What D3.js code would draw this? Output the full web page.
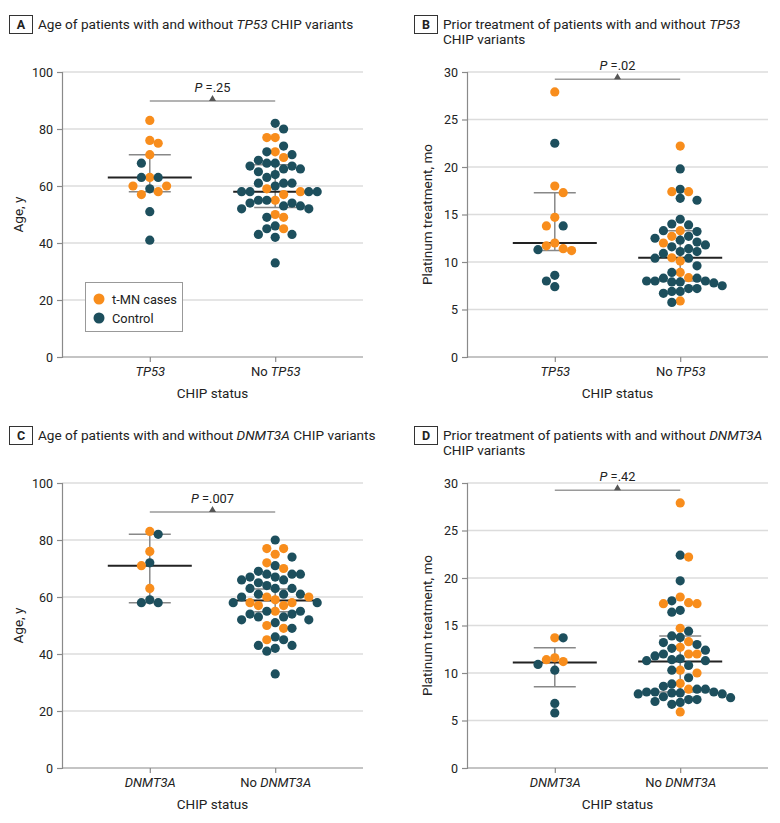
<!DOCTYPE html>
<html><head><meta charset="utf-8">
<script src="https://cdn.jsdelivr.net/npm/d3@7"></script>
<style>
body{margin:0;background:#fff}
svg{display:block}
text{font-family:Roboto,"Liberation Sans",Arial,sans-serif;fill:#222}
</style>
</head><body>
<svg id="chart" width="780" height="823"></svg>
<script>
// ---------- DATA ----------
// Panel A: age (years)
const ageTP53Cases      = [83,76,75,71,63,60,60,58,57];
const ageTP53Controls   = [68,63,63,59,51,41];
const ageNoTP53Cases    = [77,77,72,70,59,58,57,55,50,49,45];
const ageNoTP53Controls = [82,80,74,72,71,69,68,68,67,67,66,66,65,64,63,61,61,61,60,58,58,58,58,55,55,54,54,53,53,52,52,49,46,45,43,43,42,33];
// Panel B: platinum treatment (months)
const platTP53Cases      = [27.9,18.0,17.3,14.7,13.8,12.0,11.7,11.4,11.2];
const platTP53Controls   = [22.5,13.8,11.3,8.6,8.0,7.4];
const platNoTP53Cases    = [22.2,17.4,17.4,13.3,12.7,12.0,10.45,10.1,8.9,8.35,5.9];
const platNoTP53Controls = [19.8,17.65,16.7,16.5,14.5,14.0,13.9,13.3,13.2,12.7,12.5,12.3,12.1,11.8,11.6,11.4,11.1,11.1,10.9,10.4,10.4,9.6,8.9,8.3,8.3,8.0,8.0,8.0,7.9,7.9,7.8,7.5,7.2,7.2,6.9,6.9,6.7,5.75];
// Panel C: age (years)
const ageDNMT3ACases      = [83,76,71,63];
const ageDNMT3AControls   = [82,72,59,58,58];
const ageNoDNMT3ACases    = [77,77,75,72,70,60,60,59,58,58,57,57,55,50,49,45];
const ageNoDNMT3AControls = [80,74,71,69,68,68,68,67,67,66,66,65,64,63,63,63,61,61,61,60,58,58,55,55,54,54,53,53,52,52,51,49,46,45,43,43,42,41,33];
// Panel D: platinum treatment (months)
const platDNMT3ACases      = [13.7,11.6,11.4,11.2];
const platDNMT3AControls   = [13.7,10.9,10.3,6.8,5.8];
const platNoDNMT3ACases    = [27.9,22.2,18.0,17.4,17.3,17.3,14.7,13.3,12.7,12.0,12.0,10.3,10.0,8.9,8.3,5.9];
const platNoDNMT3AControls = [22.4,19.7,17.6,16.6,16.4,14.4,13.9,13.75,13.2,13.0,12.6,12.4,12.0,11.8,11.5,11.4,11.3,11.3,10.8,10.3,9.5,8.85,8.6,8.3,8.3,8.0,8.0,8.0,7.9,7.9,7.8,7.8,7.5,7.4,7.2,7.2,7.0,6.9,6.7];
// Summary lines [median, lower, upper]
const statsA = [[63,58,71],[58,52.5,67.5]];
const statsB = [[12.0,11.2,17.3],[10.45,8.0,13.3]];
const statsC = [[71,58,82],[58.8,54.8,62.8]];
const statsD = [[11.1,8.55,12.65],[11.2,8.0,13.9]];
// P values
const pValues = [".25",".02",".007",".42"];
// Ticks
const ageTicks  = [0,20,40,60,80,100];
const platTicks = [0,5,10,15,20,25,30];
const legendLabels = ["t-MN cases","Control"];

// ---------- STYLE ----------
const ORANGE = "#F88D1C", TEAL = "#1D4F5D";
const R = 4.6, STEP = 8.4;
const FONT = "Roboto,'Liberation Sans',Arial,sans-serif";

const svg = d3.select("#chart");

const panels = [
  {id:"A", ox:0,   oy:0,   gene:"TP53",   kind:"age",
   groups:[[ageTP53Cases,ageTP53Controls],[ageNoTP53Cases,ageNoTP53Controls]], stats:statsA, p:pValues[0],
   title:[[["Age of patients with and without ",false],["TP53",true],[" CHIP variants",false]]], legend:true},
  {id:"B", ox:405, oy:0,   gene:"TP53",   kind:"plat",
   groups:[[platTP53Cases,platTP53Controls],[platNoTP53Cases,platNoTP53Controls]], stats:statsB, p:pValues[1],
   title:[[["Prior treatment of patients with and without ",false],["TP53",true]],[["CHIP variants",false]]]},
  {id:"C", ox:0,   oy:411, gene:"DNMT3A", kind:"age",
   groups:[[ageDNMT3ACases,ageDNMT3AControls],[ageNoDNMT3ACases,ageNoDNMT3AControls]], stats:statsC, p:pValues[2],
   title:[[["Age of patients with and without ",false],["DNMT3A",true],[" CHIP variants",false]]]},
  {id:"D", ox:405, oy:411, gene:"DNMT3A", kind:"plat",
   groups:[[platDNMT3ACases,platDNMT3AControls],[platNoDNMT3ACases,platNoDNMT3AControls]], stats:statsD, p:pValues[3],
   title:[[["Prior treatment of patients with and without ",false],["DNMT3A",true]],[["CHIP variants",false]]]}
];

function swarm(pts, cx) {
  const placed = [];
  let flip = 1;
  const minDy = 2*R*0.98;
  pts.forEach(p => {
    for (let m=0; m<60; m++) {
      const cands = m===0 ? [0] : [flip*m, -flip*m];
      let chosen = null;
      for (const k of cands) {
        if (!placed.some(q => q.k===k && Math.abs(q.y-p.y) < minDy)) { chosen = k; break; }
      }
      if (chosen !== null) {
        if (chosen !== 0) flip = -flip;
        p.k = chosen; placed.push(p); break;
      }
    }
    p.x = cx + p.k*STEP;
  });
  return pts;
}

panels.forEach(P => {
  const g = svg.append("g").attr("transform",`translate(${P.ox},${P.oy})`);
  const left = 62, right = 363, top = 72, bottom = 357;
  const yMax = P.kind==="age" ? 100 : 30;
  const ticks = P.kind==="age" ? ageTicks : platTicks;
  const y = d3.scaleLinear().domain([0,yMax]).range([bottom,top]);
  const cats = [P.gene, "No " + P.gene];
  const x = d3.scalePoint().domain(cats).range([left,right]).padding(0.7);

  // panel label box + title
  g.append("rect").attr("x",9.5).attr("y",15.5).attr("width",23).attr("height",18)
    .attr("fill","#fff").attr("stroke","#333").attr("stroke-width",1);
  g.append("text").attr("x",21).attr("y",29).attr("text-anchor","middle")
    .style("font-size","12.5px").style("font-weight","bold").text(P.id);
  P.title.forEach((line,i) => {
    const t = g.append("text").attr("x",38).attr("y",29 + i*15).style("font-size","13.6px");
    line.forEach(([s,it]) => t.append("tspan").style("font-style",it?"italic":"normal").text(s));
  });

  // gridlines
  g.append("g").selectAll("line").data(ticks.filter(d=>d>0)).join("line")
    .attr("x1",left).attr("x2",right).attr("y1",d=>y(d)).attr("y2",d=>y(d))
    .attr("stroke","#dcdcdc").attr("stroke-width",1.5);

  // y axis
  const ya = g.append("g").attr("transform",`translate(${left},0)`)
    .call(d3.axisLeft(y).tickValues(ticks).tickSize(5).tickPadding(4));
  ya.select(".domain").attr("stroke","#8a8a8a").attr("stroke-width",1.2);
  ya.selectAll(".tick line").attr("stroke","#8a8a8a").attr("stroke-width",1.2);
  ya.selectAll(".tick text").style("font-size","12.5px").style("font-family",FONT).attr("fill","#222");

  // x axis
  const xa = g.append("g").attr("transform",`translate(0,${bottom})`)
    .call(d3.axisBottom(x).tickSize(5).tickPadding(5).tickSizeOuter(0));
  xa.select(".domain").attr("stroke","#8a8a8a").attr("stroke-width",1.2).attr("d",`M${left},0H${right}`);
  xa.selectAll(".tick line").attr("stroke","#8a8a8a").attr("stroke-width",1.2);
  xa.selectAll(".tick text").each(function(d){
    const t = d3.select(this).text(null).style("font-size","13px")
      .style("font-family",FONT).attr("fill","#222").attr("dy","0.71em");
    if (d.startsWith("No ")) { t.append("tspan").text("No "); t.append("tspan").style("font-style","italic").text(P.gene); }
    else t.append("tspan").style("font-style","italic").text(d);
  });

  // axis titles
  g.append("text").attr("x",(left+right)/2).attr("y",398).attr("text-anchor","middle")
    .style("font-size","13.5px").text("CHIP status");
  g.append("text").attr("transform",`translate(${P.kind==="age"?23:27},${(top+bottom)/2}) rotate(-90)`)
    .attr("text-anchor","middle").style("font-size","13.5px")
    .text(P.kind==="age" ? "Age, y" : "Platinum treatment, mo");

  // P bracket
  const bY = P.kind==="age" ? y(89.8) : y(29.25);
  const x1 = x(cats[0]), x2 = x(cats[1]), xm = (x1+x2)/2;
  g.append("line").attr("x1",x1).attr("x2",x2).attr("y1",bY).attr("y2",bY)
    .attr("stroke","#9a9a9a").attr("stroke-width",1.5);
  g.append("path").attr("d",`M${xm-3.5},${bY}L${xm+3.5},${bY}L${xm},${bY-6}Z`).attr("fill","#555");
  const pt = g.append("text").attr("x",xm).attr("y",bY-9).attr("text-anchor","middle").style("font-size","12.8px");
  pt.append("tspan").style("font-style","italic").text("P");
  pt.append("tspan").text(" =" + P.p);

  // summary lines (under points)
  P.stats.forEach(([med,lo,hi],i) => {
    const cx = x(cats[i]);
    g.append("line").attr("x1",cx).attr("x2",cx).attr("y1",y(lo)).attr("y2",y(hi)).attr("stroke","#888").attr("stroke-width",1.5);
    [lo,hi].forEach(v => g.append("line").attr("x1",cx-21).attr("x2",cx+21).attr("y1",y(v)).attr("y2",y(v))
      .attr("stroke","#888").attr("stroke-width",1.5));
    g.append("line").attr("x1",cx-42).attr("x2",cx+42).attr("y1",y(med)).attr("y2",y(med))
      .attr("stroke","#222").attr("stroke-width",2);
  });

  // points
  P.groups.forEach(([cases,ctrls],i) => {
    const pts = cases.map(v=>({v,c:ORANGE})).concat(ctrls.map(v=>({v,c:TEAL})));
    pts.forEach(p => p.y = y(p.v));
    pts.sort((a,b)=>b.v-a.v);
    const placed = swarm(pts, x(cats[i]));
    g.append("g").selectAll("circle").data(placed).join("circle")
      .attr("cx",d=>d.x).attr("cy",d=>d.y).attr("r",R).attr("fill",d=>d.c);
  });

  // legend
  if (P.legend) {
    g.append("rect").attr("x",85.5).attr("y",282.5).attr("width",97).attr("height",49)
      .attr("fill","#fff").attr("stroke","#999").attr("stroke-width",1);
    legendLabels.forEach((lab,i) => {
      g.append("circle").attr("cx",99).attr("cy",299+i*19).attr("r",5.5).attr("fill",i===0?ORANGE:TEAL);
      g.append("text").attr("x",112).attr("y",303.5+i*19).style("font-size","12.8px").text(lab);
    });
  }
});
</script>
</body></html>
